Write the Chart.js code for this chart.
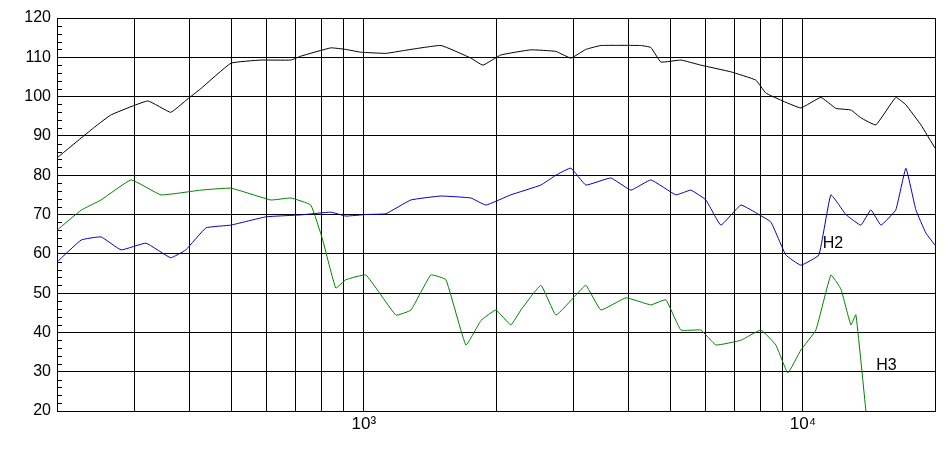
<!DOCTYPE html>
<html><head><meta charset="utf-8">
<script src="https://cdn.jsdelivr.net/npm/chart.js@4/dist/chart.umd.min.js"></script>
<style>html,body{margin:0;padding:0;background:#fff}#w{width:952px;height:458px}</style>
</head><body><div id="w"><canvas id="c"></canvas></div>
<script>
const freqMain=[200,239,265,322,363,393,425,498,583,682,719,841,910,984,1122,1214,1498,1753,1867,2052,2402,2738,2962,3204,3467,4276,4506,4749,5274,5857,6855,7813,8237,8910,9895,10990,11892,12864,13555,14668,16285,17167,18572,20000];
const splMain=[84.4,91.5,95.3,98.9,96,99,102,108.5,109.3,109.3,110.3,112.4,112,111.3,111,111.6,113,109.8,108,110.6,111.9,111.5,109.8,112,113,113,112.5,108.8,109.3,108,106.3,104.2,100.9,99.1,97.1,99.8,97,96.6,94.6,92.8,99.8,97.9,92.8,86.9];
const freqH2=[200,227,252,280,319,363,393,437,498,598,719,841,910,1011,1122,1280,1498,1753,1897,2162,2531,2738,2962,3204,3653,4058,4506,5137,5557,6012,6505,7224,7938,8456,9147,9895,10876,11584,12532,13555,14290,15062,16285,17167,18090,19064,20000];
const splH2=[57.9,63.5,64.3,61,62.7,59,61,66.6,67.3,69.4,69.9,70.6,69.6,70,70.2,73.7,74.7,74.2,72.4,75,77.5,80,81.8,77.5,79.3,76.2,78.8,75,76.2,73.7,67.3,72.4,70,68.1,59.7,57.1,59.7,75,70,67.3,71.2,67.3,71.2,81.8,71.2,65.3,62.2];
const freqH3=[200,227,252,295,345,425,498,614,682,757,806,863,910,1011,1183,1280,1421,1538,1708,1848,1999,2162,2279,2531,2738,3040,3204,3467,3953,4506,4874,5274,5857,6337,7224,8023,8680,9243,9895,10706,11584,12212,12864,13206,13920];
const splH3=[66,71.1,73.7,78.8,75,76.2,76.7,73.7,74.2,72.4,63.5,51.3,53.4,54.6,44.4,45.7,54.6,53.4,36.8,43,45.7,41.9,45.7,52,44.4,49.5,52,45.7,48.8,47,48.3,40.6,40.6,36.8,38,40.6,36.8,29.7,35.5,40.6,54.6,51,41.9,44.5,20];
const yTicks=[20,30,40,50,60,70,80,90,100,110,120];
const xTicks=[200,300,400,500,600,700,800,900,1000,2000,3000,4000,5000,6000,7000,8000,9000,10000,20000];
const xLabels={1000:'10³',10000:'10⁴'};
const mk=(f,v)=>f.map((x,i)=>({x:x,y:v[i]}));
const labels={id:'lbl',afterDatasetsDraw(ch){const c=ch.ctx,x=ch.scales.x,y=ch.scales.y;c.save();c.font='16px Arial';c.fillStyle='#000';c.textBaseline='middle';
c.fillText('H2',x.getPixelForValue(11100),y.getPixelForValue(62.5));c.fillText('H3',x.getPixelForValue(14700),y.getPixelForValue(31.5));
c.strokeStyle='#000';c.lineWidth=1;c.beginPath();for(let v=20;v<=120;v+=2){const p=Math.round(y.getPixelForValue(v))+0.5;c.moveTo(x.left,p);c.lineTo(x.left+(v%10?5:0),p);}c.stroke();c.restore();}};
new Chart(document.getElementById('c'),{type:'line',
data:{datasets:[
{data:mk(freqMain,splMain),borderColor:'#000',borderWidth:1,pointRadius:0,tension:0.1},
{data:mk(freqH2,splH2),borderColor:'#0000c0',borderWidth:1,pointRadius:0,tension:0.1},
{data:mk(freqH3,splH3),borderColor:'#008000',borderWidth:1,pointRadius:0,tension:0.1}]},
options:{responsive:true,maintainAspectRatio:false,animation:false,layout:{padding:{top:18,right:17}},
plugins:{legend:{display:false},tooltip:{enabled:false}},
scales:{x:{type:'logarithmic',min:200,max:20000,afterBuildTicks(s){s.ticks=xTicks.map(v=>({value:v}));},afterFit(s){s.height=47;},
ticks:{autoSkip:false,maxRotation:0,color:'#000',font:{family:'Arial',size:17},callback:v=>xLabels[v]||''},
grid:{color:'#000',drawTicks:false,lineWidth:1},border:{color:'#000'}},
y:{min:20,max:120,afterBuildTicks(s){s.ticks=yTicks.map(v=>({value:v}));},afterFit(s){s.width=57;},
ticks:{color:'#000',font:{family:'Arial',size:16},padding:6},grid:{color:'#000',drawTicks:false},border:{color:'#000'}}}},
plugins:[labels]});
</script></body></html>
